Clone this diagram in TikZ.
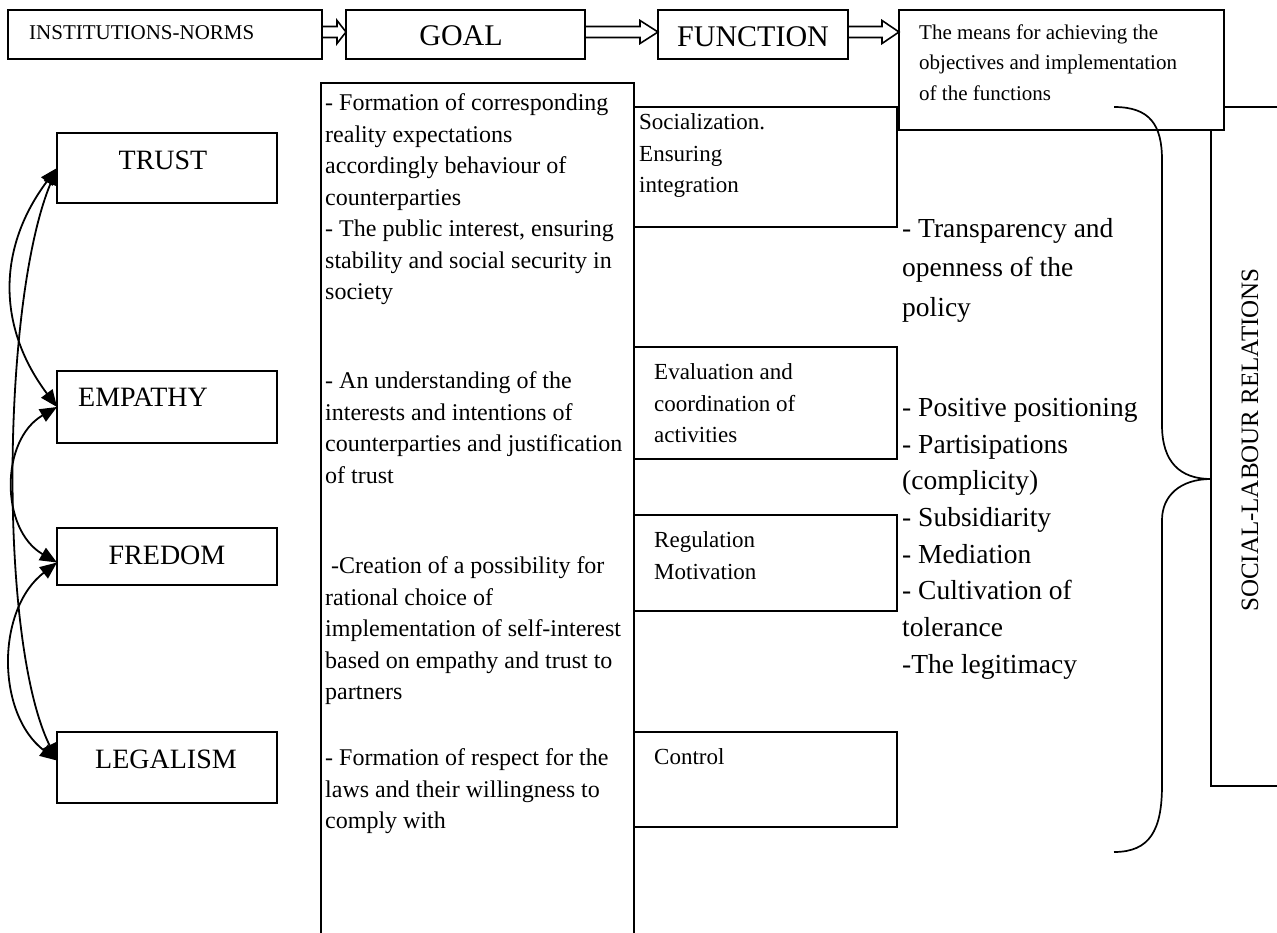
\documentclass[tikz,border=0pt]{standalone}
\usepackage{fontspec}
\setmainfont{Liberation Serif}
\usetikzlibrary{calc,arrows.meta}
\newcommand{\fsz}[2]{\fontsize{#1}{#2}\selectfont}
\newcommand{\dblarrow}[3]{\draw[hollow] ($(#1)+(0,-8)$) -- ($(#2)+(-#3,-8)$) -- ($(#2)+(-#3,-14)$) -- ($(#2)+(0,-2.5)$) -- ($(#2)+(-#3,9)$) -- ($(#2)+(-#3,3)$) -- ($(#1)+(0,3)$);}
\begin{document}
\begin{tikzpicture}[x=1pt,y=-1pt,
  box/.style={draw, line width=1.8pt, rectangle, inner sep=0, outer sep=0, anchor=north west},
  txt/.style={inner sep=0, anchor=north west, align=left},
  lbl/.style={inner sep=0},
  link/.style={line width=1.8pt, {Triangle[length=17pt,width=14pt]}-{Triangle[length=17pt,width=14pt]}},
  hollow/.style={line width=1.6pt, line join=miter},
  brace/.style={line width=1.7pt}
  ]
\useasboundingbox[fill=white] (0,0) rectangle (1277,933);

% middle column and function boxes
\node[box, minimum width=313pt, minimum height=880pt] (col) at (321,83) {};
\node[box, minimum width=263pt, minimum height=120pt] (soc) at (634,107) {};
\node[box, minimum width=263pt, minimum height=112pt] (eval) at (634,347) {};
\node[box, minimum width=263pt, minimum height=96pt] (reg) at (634,515) {};
\node[box, minimum width=263pt, minimum height=95pt] (ctrl) at (634,732) {};
\node[box, minimum width=100pt, minimum height=679pt] (social) at (1211,107) {};

% top row
\node[box, fill=white, minimum width=325pt, minimum height=120pt] (means) at (899,10) {};
\node[box, minimum width=314pt, minimum height=49pt] (inst) at (8,10) {};
\node[box, minimum width=239pt, minimum height=49pt] (goal) at (346,10) {};
\node[box, minimum width=190pt, minimum height=49pt] (func) at (658,10) {};
\coordinate (meansin) at (means.west |- func.east);

\dblarrow{inst.east}{goal.west}{9}
\dblarrow{goal.east}{func.west}{18}
\dblarrow{func.east}{meansin}{17}

% left boxes
\node[box, minimum width=220pt, minimum height=70pt] (trust) at (57,133) {};
\node[box, minimum width=220pt, minimum height=72pt] (empathy) at (57,371) {};
\node[box, minimum width=220pt, minimum height=57pt] (fredom) at (57,528) {};
\node[box, minimum width=220pt, minimum height=71pt] (legalism) at (57,732) {};

% texts
\node[lbl, font=\fsz{21}{25}, anchor=west] (tinst) at (29,33) {INSTITUTIONS-NORMS};
\node[lbl, font=\fsz{30}{36}] (tgoal) at (461,36) {GOAL};
\node[lbl, font=\fsz{30}{36}] (tfunc) at (753,37) {FUNCTION};
\node[txt, font=\fsz{21}{30.5}] (tmeans) at (919,24.4) {The means for achieving the\\objectives and implementation\\of the functions};

\node[txt, font=\fsz{24}{31.5}] (g1) at (325,93.5) {- Formation of corresponding\\reality expectations\\accordingly behaviour of\\counterparties\\- The public interest, ensuring\\stability and social security in\\society};
\node[txt, font=\fsz{24}{31.5}] (g2) at (325,371.5) {- An understanding of the\\interests and intentions of\\counterparties and justification\\of trust};
\node[txt, font=\fsz{24}{31.5}] (g3) at (325,556.5) {\hspace*{6pt}-Creation of a possibility for\\rational choice of\\implementation of self-interest\\based on empathy and trust to\\partners};
\node[txt, font=\fsz{24}{31.5}] (g4) at (325,748.5) {- Formation of respect for the\\laws and their willingness to\\comply with};

\node[txt, font=\fsz{23}{31.5}] (f1) at (639,113.7) {Socialization.\\Ensuring\\integration};
\node[txt, font=\fsz{23}{31.5}] (f2) at (654,363.7) {Evaluation and\\coordination of\\activities};
\node[txt, font=\fsz{23}{31.5}] (f3) at (654,531.7) {Regulation\\Motivation};
\node[txt, font=\fsz{23}{31.5}] (f4) at (654,748.7) {Control};

\node[txt, font=\fsz{27.5}{39.5}] (m1) at (902,218) {- Transparency and\\openness of the\\policy};
\node[txt, font=\fsz{27.5}{36.7}] (m2) at (902,398) {- Positive positioning\\- Partisipations\\(complicity)\\- Subsidiarity\\- Mediation\\- Cultivation of\\tolerance\\-The legitimacy};

\node[lbl, font=\fsz{25}{30}, rotate=90] (tsocial) at (1250,440) {SOCIAL-LABOUR RELATIONS};

\node[lbl, font=\fsz{28}{32}] (ttrust) at (163,160) {TRUST};
\node[lbl, font=\fsz{28}{32}, anchor=west] (tempathy) at (78,397) {EMPATHY};
\node[lbl, font=\fsz{28}{32}] (tfredom) at (167,555) {FREDOM};
\node[lbl, font=\fsz{28}{32}] (tlegalism) at (166,759) {LEGALISM};

% brace
\draw[brace] (1114,107) .. controls (1150,107) and (1162,125) .. (1162,160) -- (1162,425)
  .. controls (1162,462) and (1180,479) .. (1211,479)
  .. controls (1180,479) and (1162,496) .. (1162,520) -- (1162,785)
  .. controls (1162,830) and (1150,852) .. (1114,852);

% left connectors
\coordinate (pf) at ($(fredom.west)+(0,6)$);
\coordinate (pl) at ($(legalism.west)+(0,-7)$);
\draw[link] (trust.west) .. controls +(-60,80) and +(-60,-80) .. (empathy.west);
\draw[link] (trust.west) .. controls +(-55,132) and +(-59,-120) .. (pl);
\draw[link] (empathy.west) .. controls +(-57,33) and +(-57,-33) .. (pf);
\draw[link] (pf) .. controls +(-61,47) and +(-61,-47) .. (pl);
\end{tikzpicture}
\end{document}
